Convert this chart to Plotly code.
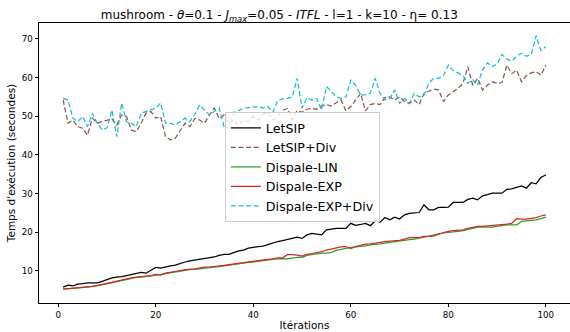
import plotly.graph_objects as go

iterations = list(range(1, 101))

letsip = [5.8, 6.3, 6.1, 6.6, 6.7, 6.9, 6.9, 6.9, 7.3, 7.8,
          8.2, 8.4, 8.5, 8.8, 9.1, 9.3, 9.6, 9.4, 10.2, 10.9,
          10.7, 11.1, 11.3, 11.5, 12.0, 12.3, 12.6, 12.8, 13.0, 13.2,
          13.3, 13.6, 14.0, 14.3, 14.3, 14.8, 15.2, 15.4, 15.9, 16.1,
          16.3, 16.4, 16.8, 17.3, 17.6, 17.8, 18.1, 18.4, 18.7, 18.4,
          19.3, 19.7, 19.5, 19.3, 20.6, 20.8, 21.0, 21.0, 21.0, 22.3,
          21.8, 22.0, 22.3, 21.7, 22.9, 22.6, 23.8, 23.2, 23.9, 23.4,
          24.5, 24.9, 25.0, 25.1, 27.1, 25.8, 25.8, 26.4, 26.4, 26.5,
          27.7, 27.7, 27.7, 28.5, 28.8, 28.4, 29.4, 29.7, 30.1, 30.1,
          30.1, 31.1, 31.2, 31.6, 32.0, 31.4, 32.8, 32.5, 34.2, 34.8]

letsip_div = [54.2, 48.2, 49.0, 47.3, 46.9, 45.1, 49.5, 48.2, 48.6, 49.0,
              49.3, 47.7, 50.3, 49.9, 46.4, 46.0, 48.2, 50.8, 51.2, 49.5,
              49.9, 44.7, 43.9, 44.3, 46.4, 48.2, 47.3, 49.4, 49.0, 48.2,
              50.3, 52.1, 49.4, 50.3, 48.0, 49.0, 47.5, 49.0, 48.5, 50.0,
              49.0, 50.5, 51.0, 49.0, 50.0, 51.5, 52.0, 49.0, 51.5, 51.0,
              51.8, 52.0, 51.8, 52.6, 53.0, 52.6, 53.5, 54.2, 51.4, 52.5,
              54.2, 55.9, 51.4, 53.0, 53.3, 53.0, 54.8, 55.0, 54.2, 55.0,
              53.8, 53.3, 54.2, 53.0, 55.9, 56.4, 57.0, 56.8, 53.8, 55.5,
              56.3, 57.2, 58.5, 62.8, 58.0, 59.8, 56.8, 58.0, 58.9, 58.5,
              58.7, 63.2, 61.0, 61.9, 58.9, 60.5, 61.2, 61.5, 60.6, 63.2]

dispale_lin = [5.3, 5.4, 5.4, 5.6, 5.7, 5.8, 6.0, 6.2, 6.4, 6.7,
               6.9, 7.2, 7.5, 7.8, 8.1, 8.3, 8.4, 8.5, 8.7, 8.9,
               9.0, 9.3, 9.5, 9.7, 10.0, 10.2, 10.3, 10.4, 10.6, 10.8,
               10.9, 11.0, 11.1, 11.3, 11.5, 11.7, 11.8, 12.0, 12.2, 12.3,
               12.5, 12.7, 12.9, 13.0, 13.1, 13.2, 13.1, 13.3, 13.5, 13.5,
               14.0, 14.2, 14.4, 14.6, 14.6, 14.8, 15.3, 15.6, 15.9, 16.1,
               16.2, 16.3, 16.5, 16.7, 16.8, 17.0, 17.2, 17.4, 17.6, 17.8,
               18.0, 18.1, 18.2, 18.4, 18.7, 19.0, 19.4, 19.6, 19.8, 19.9,
               20.0, 20.2, 20.4, 20.8, 21.0, 21.3, 21.3, 21.3, 21.3, 21.5,
               21.8, 21.9, 21.9, 21.9, 22.8, 22.9, 23.1, 23.2, 23.5, 23.9]

dispale_exp = [5.3, 5.4, 5.5, 5.6, 5.7, 5.8, 6.0, 6.2, 6.5, 6.8,
               7.0, 7.4, 7.7, 7.9, 8.2, 8.4, 8.5, 8.6, 8.8, 9.1,
               9.0, 9.4, 9.7, 9.8, 10.1, 10.3, 10.4, 10.5, 10.8, 11.0,
               11.0, 11.1, 11.2, 11.4, 11.6, 11.8, 12.0, 12.1, 12.3, 12.5,
               12.7, 12.9, 13.0, 13.1, 13.4, 13.4, 14.2, 14.2, 14.1, 13.8,
               14.3, 14.5, 14.7, 15.0, 15.4, 15.7, 16.0, 16.2, 16.3, 15.8,
               16.3, 16.6, 16.9, 17.0, 17.2, 17.5, 17.6, 17.7, 17.8, 17.9,
               18.2, 18.6, 18.6, 18.6, 18.9, 19.0, 19.0, 19.5, 19.9, 20.2,
               20.4, 20.5, 20.6, 21.0, 21.3, 21.5, 21.5, 21.6, 21.8, 21.9,
               22.0, 22.1, 22.3, 23.5, 23.4, 23.4, 23.6, 23.8, 24.2, 24.5]

dispale_exp_div = [54.6, 54.2, 49.5, 48.6, 49.9, 47.3, 50.7, 48.2, 46.4, 47.0,
                   51.6, 44.7, 53.4, 48.6, 48.2, 47.3, 50.8, 51.2, 51.6, 52.1,
                   53.4, 48.2, 48.2, 47.7, 48.6, 49.5, 48.6, 50.5, 52.9, 51.5,
                   50.3, 51.2, 52.1, 47.3, 47.0, 51.0, 51.5, 52.0, 52.2, 52.3,
                   52.5, 52.1, 52.5, 51.0, 54.0, 54.5, 54.6, 55.0, 59.8, 52.1,
                   54.8, 54.2, 54.6, 51.6, 57.7, 56.4, 55.0, 54.6, 55.0, 59.4,
                   58.0, 55.5, 55.5, 56.0, 59.8, 55.9, 54.2, 54.6, 56.8, 53.3,
                   54.6, 53.3, 55.9, 55.0, 55.5, 58.5, 59.8, 59.8, 60.5, 63.2,
                   61.8, 61.2, 60.5, 58.5, 59.5, 58.0, 62.0, 63.8, 62.8, 63.5,
                   66.0, 64.8, 64.2, 65.5, 66.3, 65.5, 66.0, 70.8, 67.0, 68.0]

series_names = ["LetSIP", "LetSIP+Div", "Dispale-LIN", "Dispale-EXP", "Dispale-EXP+Div"]

fig = go.Figure()
styles = [
    (letsip, "black", "solid"),
    (letsip_div, "#8c564b", "5px,2.6px"),
    (dispale_lin, "#2ca02c", "solid"),
    (dispale_exp, "#d62728", "solid"),
    (dispale_exp_div, "#17becf", "5px,2.6px"),
]
for name, (vals, color, dash) in zip(series_names, styles):
    fig.add_trace(go.Scatter(x=iterations, y=vals, mode="lines", name=name,
                             line=dict(color=color, width=1.25, dash=dash)))

font_family = "DejaVu Sans"
fig.update_layout(
    width=570, height=332,
    margin=dict(l=39, r=0, t=23, b=29),
    paper_bgcolor="white", plot_bgcolor="white",
    font=dict(family=font_family, color="black", size=8.7),
    title=dict(
        text="mushroom - <i>θ</i>=0.1 - <i>J<sub>max</sub></i>=0.05 - <i>ITFL</i> - l=1 - k=10 - η= 0.13",
        x=0.49, xanchor="center", y=0.955, yanchor="middle", xref="container", yref="container",
        font=dict(family=font_family, size=12, color="black"),
    ),
    legend=dict(
        x=0.350, y=0.682, xanchor="left", yanchor="top",
        bgcolor="rgba(255,255,255,0.8)", bordercolor="#cccccc", borderwidth=1,
        font=dict(family=font_family, size=12.7, color="black"),
    ),
    showlegend=True,
)
fig.update_xaxes(
    range=[-3.95, 104.95], tickvals=[0, 20, 40, 60, 80, 100],
    ticks="outside", ticklen=3.5, tickwidth=0.8, tickcolor="black",
    showline=True, linecolor="black", linewidth=0.8, mirror=True,
    showgrid=False, zeroline=False,
    title=dict(text="Itérations", font=dict(size=10.5), standoff=2),
    automargin=False,
)
fig.update_yaxes(
    range=[1.7, 74.1], tickvals=[10, 20, 30, 40, 50, 60, 70],
    ticks="outside", ticklen=3.5, tickwidth=0.8, tickcolor="black",
    showline=True, linecolor="black", linewidth=0.8, mirror=True,
    showgrid=False, zeroline=False,
    title=dict(text="Temps d'exécution (secondes)", font=dict(size=10.5), standoff=4),
    automargin=False,
)

fig.write_html("out.html", config={"displayModeBar": False},
               post_script="document.body.style.margin='0';document.body.style.overflow='hidden';")
